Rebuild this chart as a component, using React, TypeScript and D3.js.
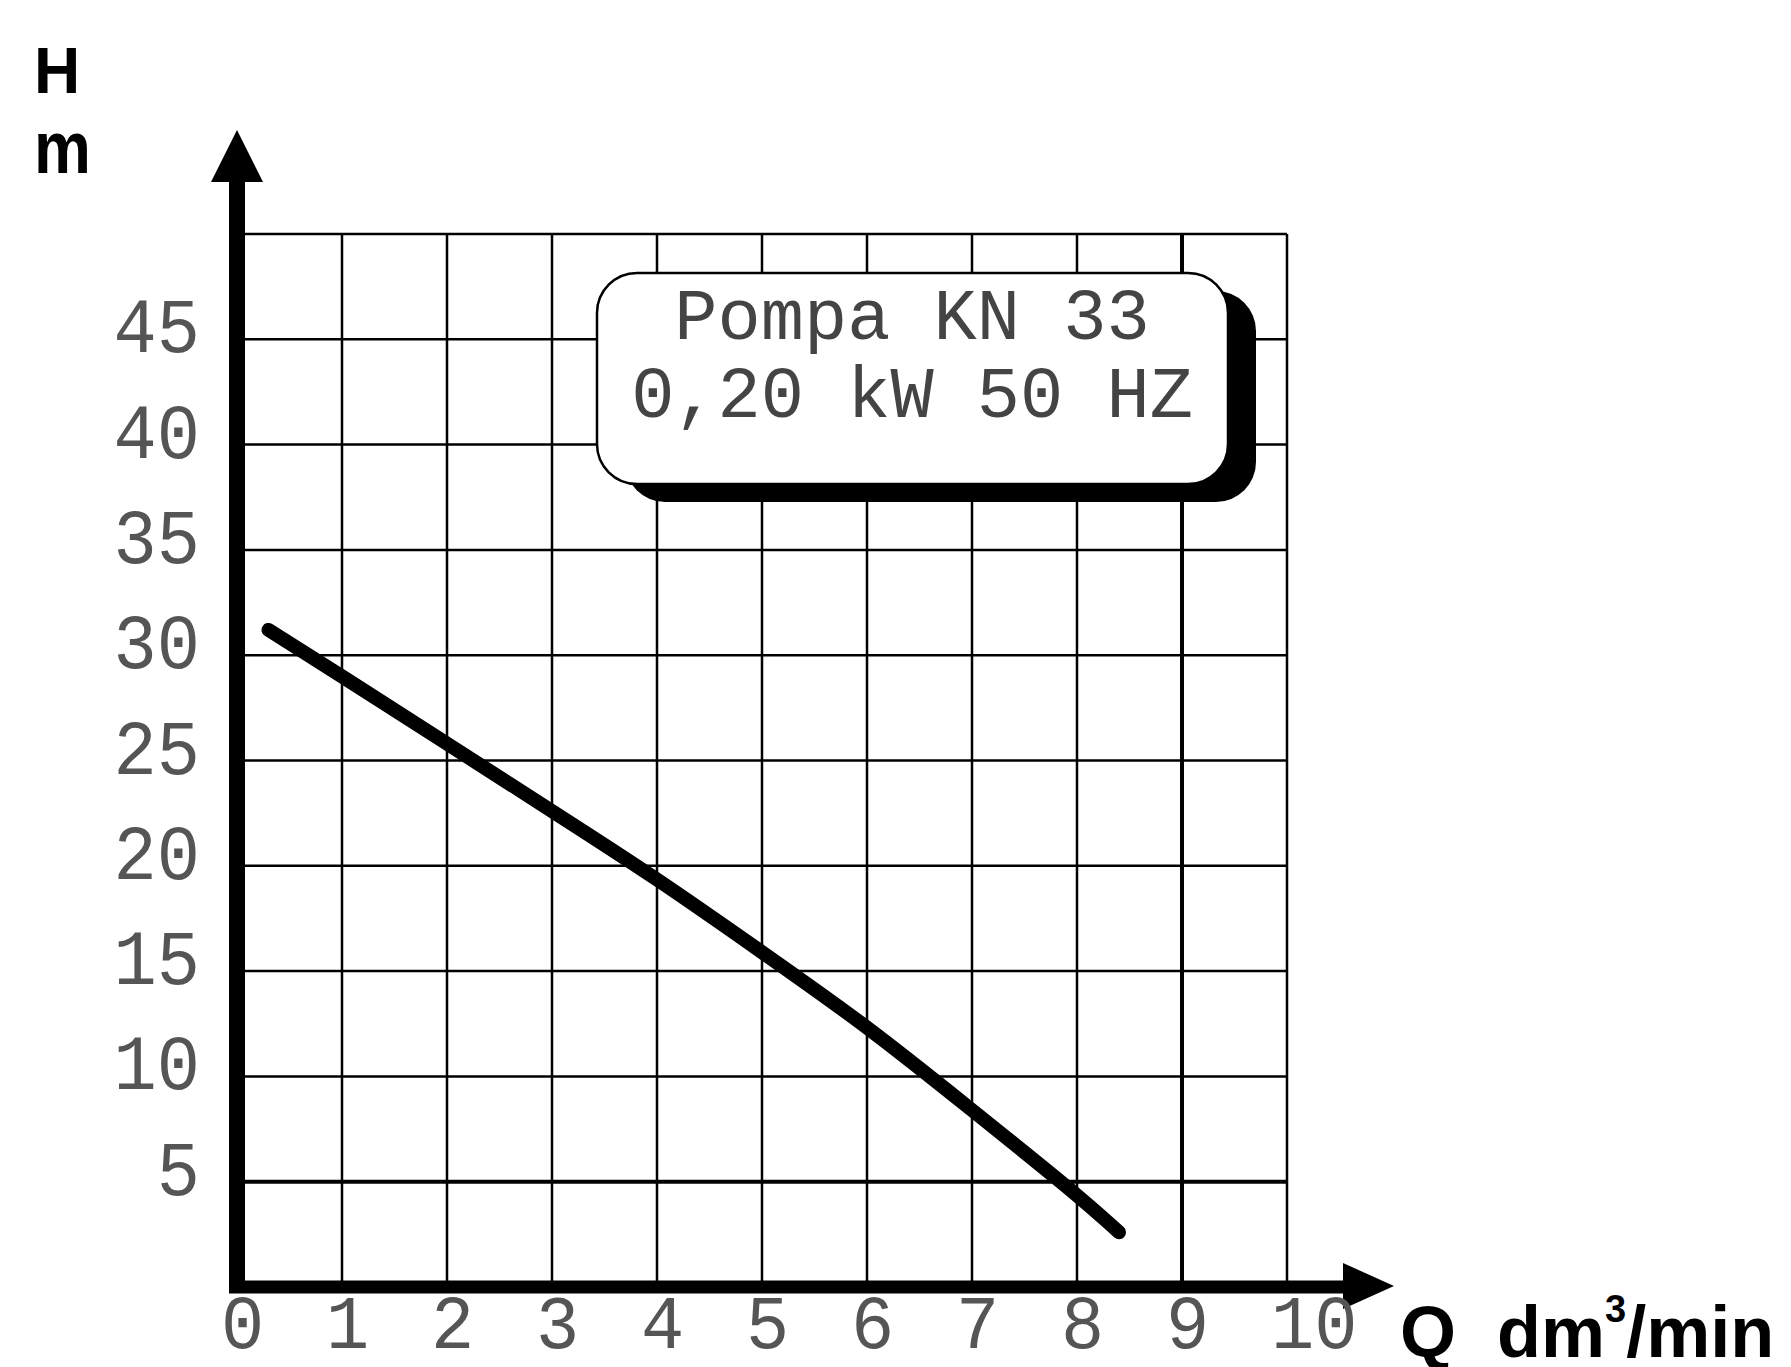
import React from "react";
import * as d3 from "d3";

// pump curve KN 33
const flowQ = [0.3, 1, 2, 3, 4, 5, 6, 7, 8, 8.4];
const headH = [31.2, 29.0, 25.8, 22.6, 19.4, 15.9, 12.4, 8.4, 4.4, 2.6];

const qTicks = [0, 1, 2, 3, 4, 5, 6, 7, 8, 9, 10];
const hTicks = [5, 10, 15, 20, 25, 30, 35, 40, 45];
const hGrid = [5, 10, 15, 20, 25, 30, 35, 40, 45, 50];
const boxLines = ["Pompa KN 33", "0,20 kW 50 HZ"];

const width = 1791;
const height = 1367;

const x = d3.scaleLinear().domain([0, 10]).range([237, 1287]);
const y = d3.scaleLinear().domain([0, 50]).range([1287, 234]);

const mono = "'Liberation Mono', 'Courier New', monospace";
const sans = "'Liberation Sans', Arial, sans-serif";

const App = () => {
  const pts: [number, number][] = flowQ.map((q, i) => [q, headH[i]]);
  const curve = d3
    .line<[number, number]>()
    .x((d) => x(d[0]))
    .y((d) => y(d[1]))
    .curve(d3.curveBasis)(pts);

  const x0 = x(0);
  const y0 = y(0);

  return (
    <svg
      width={width}
      height={height}
      style={{ position: "absolute", left: 0, top: 0, background: "#fff" }}
    >
      {/* grid */}
      <g stroke="#000">
        {qTicks.slice(1).map((q) => (
          <line
            key={"v" + q}
            x1={x(q)}
            x2={x(q)}
            y1={y(50)}
            y2={y0}
            strokeWidth={q === 9 ? 4 : 2.5}
          />
        ))}
        {hGrid.map((h) => (
          <line
            key={"h" + h}
            x1={x0}
            x2={x(10)}
            y1={y(h)}
            y2={y(h)}
            strokeWidth={h === 5 ? 4 : 2.5}
          />
        ))}
      </g>

      {/* info box */}
      <rect x={625} y={291} width={631} height={211} rx={40} fill="#000" />
      <rect
        x={597}
        y={273}
        width={631}
        height={211}
        rx={40}
        fill="#fff"
        stroke="#000"
        strokeWidth={2.5}
      />
      {boxLines.map((t, i) => (
        <text
          key={t}
          x={912}
          y={339 + i * 78}
          textAnchor="middle"
          fontFamily={mono}
          fontSize={72}
          fill="#444"
        >
          {t}
        </text>
      ))}

      {/* axes */}
      <line x1={x0} x2={x0} y1={y0 + 6} y2={180} stroke="#000" strokeWidth={16} />
      <path d={`M${x0 - 26},182 L${x0},130 L${x0 + 26},182 Z`} fill="#000" />
      <line x1={x0 - 8} x2={1345} y1={y0} y2={y0} stroke="#000" strokeWidth={13} />
      <path d={`M1343,${y0 - 24} L1394,${y0 - 1} L1343,${y0 + 22} Z`} fill="#000" />

      {/* curve */}
      <path
        d={curve || ""}
        fill="none"
        stroke="#000"
        strokeWidth={14}
        strokeLinecap="round"
        strokeLinejoin="round"
      />

      {/* tick labels */}
      {hTicks.map((h) => (
        <text
          key={"ht" + h}
          transform={`translate(200,${y(h) + 13}) scale(1,1.08)`}
          textAnchor="end"
          fontFamily={mono}
          fontSize={72}
          fill="#555"
        >
          {h}
        </text>
      ))}
      {qTicks.map((q) => (
        <text
          key={"qt" + q}
          transform={`translate(${x(q) - 16},1348) scale(1,1.06)`}
          fontFamily={mono}
          fontSize={72}
          fill="#555"
        >
          {q}
        </text>
      ))}

      {/* axis titles */}
      <text x={34} y={93} fontFamily={sans} fontWeight="bold" fontSize={64}>
        H
      </text>
      <text
        transform="translate(34,173) scale(1,1.15)"
        fontFamily={sans}
        fontWeight="bold"
        fontSize={64}
      >
        m
      </text>
      <text x={1400} y={1357} fontFamily={sans} fontWeight="bold" fontSize={72}>
        Q
      </text>
      <text x={1497} y={1357} fontFamily={sans} fontWeight="bold" fontSize={72}>
        dm
        <tspan fontSize={38} dy={-35}>
          3
        </tspan>
        <tspan dy={35}>/min</tspan>
      </text>
    </svg>
  );
};

export default App;
